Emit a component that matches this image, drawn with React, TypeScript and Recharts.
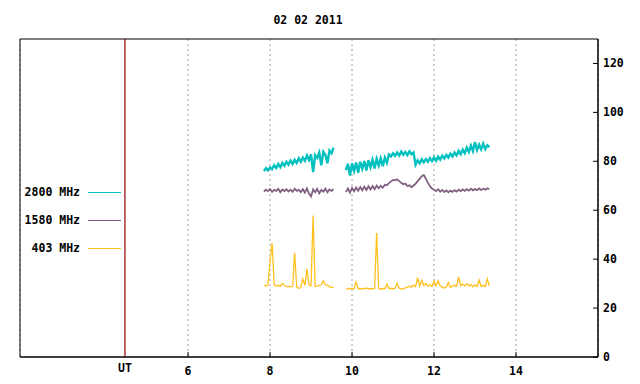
import React from 'react';
import { LineChart, Line, XAxis, YAxis, CartesianGrid, ReferenceLine, ReferenceArea } from 'recharts';

const TITLE = '02 02 2011';
const SERIES_KEYS = ['f2800', 'f1580', 'f403'];
const SERIES_NAMES = ['2800 MHz', '1580 MHz', '403 MHz'];
const SERIES_COLORS = ['#00c0c0', '#806080', '#ffc020'];
const SERIES_WIDTHS = [2.4, 1.8, 1.3];
const X_TICKS = [6, 8, 10, 12, 14];
const Y_TICKS = [0, 20, 40, 60, 80, 100, 120];
const UT_MARK = 4.46;
const GAP_TIME = 9.7;

// first observing block (UT hours)
const T_SEG1 = [7.85, 7.9, 7.95, 8, 8.05, 8.1, 8.15, 8.2, 8.25, 8.3, 8.35, 8.4, 8.45, 8.5, 8.55, 8.6, 8.65, 8.7, 8.75, 8.8,
    8.85, 8.9, 8.95, 9, 9.05, 9.1, 9.15, 9.2, 9.25, 9.3, 9.35, 9.4, 9.45, 9.5, 9.55];
const F2800_SEG1 = [76.0, 77.2, 76.3, 77.5, 76.8, 78.4, 77.3, 78.9, 77.6, 79.4, 78.2, 79.8, 78.6, 80.3, 79.0, 80.6, 79.3, 81.2, 79.8, 81.5,
    80.2, 82.4, 80.6, 82.8, 75.6, 82.5, 81.4, 83.6, 78.4, 83.9, 82.6, 79.2, 84.4, 83.3, 85.6];
const F1580_SEG1 = [67.6, 68.4, 67.8, 68.6, 67.5, 68.3, 67.9, 68.7, 67.4, 68.5, 67.8, 68.6, 67.7, 68.4, 67.5, 68.8, 67.9, 68.3, 67.4, 68.6,
    67.2, 68.9, 66.8, 65.6, 68.5, 67.4, 68.7, 66.9, 68.3, 67.6, 68.8, 67.3, 68.5, 67.9, 68.6];
const F403_SEG1 = [29.4, 28.9, 29.6, 39.2, 46.6, 29.5, 29.0, 29.3, 28.9, 30.1, 29.2, 28.8, 28.9, 28.7, 29.0, 42.6, 28.6, 28.1, 28.4, 31.9,
    29.3, 36.0, 29.4, 29.1, 57.8, 28.8, 29.0, 29.3, 29.6, 31.1, 29.5, 29.4, 28.7, 28.5, 28.5];

// second observing block
const T_SEG2 = [9.85, 9.9, 9.95, 10, 10.05, 10.1, 10.15, 10.2, 10.25, 10.3, 10.35, 10.4, 10.45, 10.5, 10.55, 10.6, 10.65, 10.7, 10.75, 10.8,
    10.85, 10.9, 10.95, 11, 11.05, 11.1, 11.15, 11.2, 11.25, 11.3, 11.35, 11.4, 11.45, 11.5, 11.55, 11.6, 11.65, 11.7, 11.75, 11.8,
    11.85, 11.9, 11.95, 12, 12.05, 12.1, 12.15, 12.2, 12.25, 12.3, 12.35, 12.4, 12.45, 12.5, 12.55, 12.6, 12.65, 12.7, 12.75, 12.8,
    12.85, 12.9, 12.95, 13, 13.05, 13.1, 13.15, 13.2, 13.25, 13.3, 13.35];
const F2800_SEG2 = [76.4, 78.9, 74.2, 79.2, 76.1, 79.5, 75.3, 79.8, 77.0, 80.1, 76.2, 80.4, 77.6, 80.6, 77.1, 81.0, 78.3, 81.2, 78.0, 81.5,
    79.4, 82.8, 82.0, 83.3, 82.2, 83.6, 82.4, 84.0, 82.7, 83.8, 82.5, 84.1, 82.9, 83.6, 78.6, 80.4, 79.2, 80.8, 79.6, 80.9,
    79.8, 81.3, 80.1, 81.6, 80.2, 81.9, 80.7, 82.3, 81.2, 82.6, 81.5, 83.1, 82.0, 83.6, 82.4, 84.3, 82.9, 84.8, 83.3, 85.6,
    83.8, 86.4, 84.2, 87.9, 84.6, 86.8, 84.9, 87.2, 85.0, 86.6, 85.8];
const F1580_SEG2 = [67.4, 68.9, 67.2, 69.1, 67.8, 69.3, 68.0, 69.5, 68.2, 69.6, 68.3, 69.8, 68.5, 69.9, 68.6, 70.1, 69.0, 70.0, 69.2, 70.4,
    70.2, 71.1, 71.8, 72.4, 72.2, 72.6, 71.9, 71.2, 70.6, 70.9, 69.9, 70.2, 69.4, 70.1, 70.8, 71.9, 72.8, 73.9, 74.4, 72.9,
    71.3, 69.8, 68.9, 68.4, 67.8, 68.6, 67.6, 68.3, 67.4, 68.1, 67.3, 68.0, 67.5, 68.2, 67.6, 68.4, 67.8, 68.5, 67.9, 68.6,
    68.0, 68.8, 68.1, 68.7, 68.2, 68.9, 68.3, 68.8, 68.4, 69.0, 68.6];
const F403_SEG2 = [27.6, 28.0, 27.9, 28.1, 27.8, 30.7, 27.9, 28.0, 27.8, 28.0, 28.2, 27.9, 28.0, 27.9, 28.0, 50.7, 27.9, 27.8, 28.0, 27.9,
    29.8, 28.0, 28.1, 27.9, 28.0, 30.2, 28.2, 27.7, 27.9, 28.3, 28.6, 28.9, 28.5, 29.4, 28.8, 32.4, 29.0, 31.3, 29.2, 30.1,
    28.9, 29.6, 28.8, 31.0, 29.1, 31.2, 29.0, 28.6, 28.2, 28.6, 30.5, 28.4, 29.0, 29.3, 28.9, 32.7, 29.2, 29.8, 29.0, 30.0,
    29.1, 29.6, 28.7, 29.5, 28.8, 31.5, 28.9, 29.3, 28.8, 31.9, 29.0];

const rows = [
    ...T_SEG1.map((t, i) => ({ t, f2800: F2800_SEG1[i], f1580: F1580_SEG1[i], f403: F403_SEG1[i] })),
    { t: GAP_TIME, f2800: null, f1580: null, f403: null },
    ...T_SEG2.map((t, i) => ({ t, f2800: F2800_SEG2[i], f1580: F1580_SEG2[i], f403: F403_SEG2[i] })),
];

const FONT = '"DejaVu Sans Mono", monospace';
const textStyle = { fontFamily: FONT, fontSize: 11.5, fontWeight: 'bold' as const, fill: '#000' };

const BottomTick = (props: any) => {
    const { x, y, payload } = props;
    return (
        <g>
            <line x1={x} x2={x} y1={y} y2={y - 5} stroke="#000" />
            <text x={x} y={y + 18} textAnchor="middle" style={textStyle}>{payload.value}</text>
        </g>
    );
};

const TopTick = (props: any) => {
    const { x, y } = props;
    return <line x1={x} x2={x} y1={y} y2={y + 5} stroke="#000" />;
};

const RightTick = (props: any) => {
    const { x, y, payload } = props;
    return (
        <g>
            <line x1={x - 5} x2={x} y1={y} y2={y} stroke="#000" />
            <text x={x + 5} y={y + 4} textAnchor="start" style={textStyle}>{payload.value}</text>
        </g>
    );
};

const UtLabel = (props: any) => {
    const vb = props.viewBox;
    return <text x={vb.x} y={vb.y + vb.height + 15} textAnchor="middle" style={textStyle}>UT</text>;
};

// gnuplot-style key, drawn inside the left part of the frame
const KeyBox = () => (
    <div style={{ position: 'absolute', left: 0, top: 178, fontFamily: FONT, fontSize: 11.5, fontWeight: 'bold' }}>
        {SERIES_NAMES.map((name, i) => (
            <div key={name} style={{ display: 'flex', alignItems: 'center', height: 28 }}>
                <span style={{ width: 80, textAlign: 'right', whiteSpace: 'pre' }}>{name}</span>
                <span style={{ marginLeft: 8, width: 33, height: 1, background: SERIES_COLORS[i] }} />
            </div>
        ))}
    </div>
);

export default function App() {
    return (
        <div style={{ position: 'absolute', left: 0, top: 0, width: 640, height: 384, background: '#fff' }}>
            <div style={{
                position: 'absolute', left: 0, top: 14, width: 616, textAlign: 'center',
                fontFamily: FONT, fontSize: 11.5, fontWeight: 'bold', lineHeight: '12px',
            }}>
                {TITLE}
            </div>
            <LineChart width={640} height={384} data={rows} margin={{ top: 39, right: 0, bottom: 0, left: 20 }}>
                <CartesianGrid horizontal={false} stroke="#a0a0a0" strokeDasharray="2 3" />
                <XAxis dataKey="t" type="number" domain={[1.9, 16]} ticks={X_TICKS} allowDataOverflow
                    height={27} axisLine={{ stroke: '#000' }} tickLine={false} tickSize={0} tickMargin={0}
                    tick={<BottomTick />} interval={0} />
                <XAxis xAxisId="top" orientation="top" dataKey="t" type="number" domain={[1.9, 16]} ticks={X_TICKS}
                    allowDataOverflow height={0} axisLine={false} tickLine={false} tickSize={0} tickMargin={0}
                    tick={<TopTick />} interval={0} />
                <YAxis orientation="right" type="number" domain={[0, 130]} ticks={Y_TICKS} allowDataOverflow
                    width={42} axisLine={{ stroke: '#000' }} tickLine={false} tickSize={0} tickMargin={0}
                    tick={<RightTick />} interval={0} />
                <ReferenceArea x1={1.9} x2={16} y1={0} y2={130} fill="none" fillOpacity={0} stroke="#000" strokeOpacity={1} />
                <ReferenceLine x={UT_MARK} stroke="#8b0000" strokeWidth={1.2} label={<UtLabel />} />
                {SERIES_KEYS.map((key, i) => (
                    <Line key={key} dataKey={key} name={SERIES_NAMES[i]} stroke={SERIES_COLORS[i]}
                        strokeWidth={SERIES_WIDTHS[i]} strokeLinejoin="miter"
                        type="linear" dot={false} connectNulls={false} isAnimationActive={false} />
                ))}
            </LineChart>
            <KeyBox />
        </div>
    );
}
